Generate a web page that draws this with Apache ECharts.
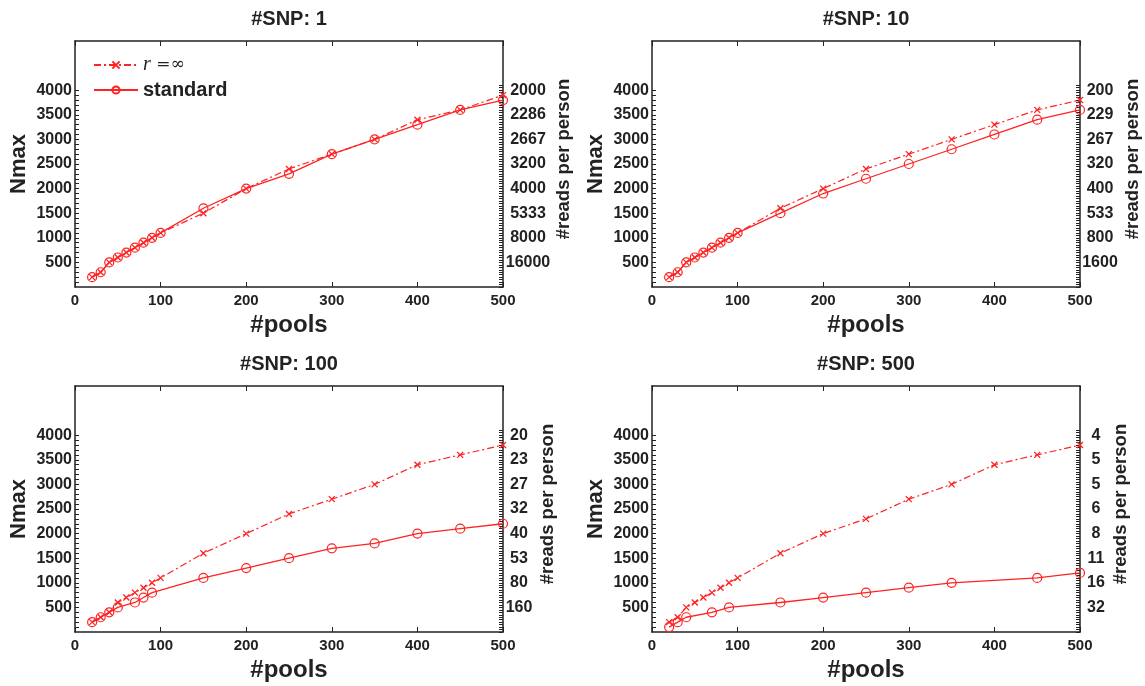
<!DOCTYPE html>
<html><head><meta charset="utf-8">
<script src="https://cdn.jsdelivr.net/npm/echarts@6/dist/echarts.min.js"></script>
<style>html,body{margin:0;padding:0;background:#fff}#c{width:1145px;height:686px}</style>
</head><body><div id="c"></div>
<script>
// ---- data ----
const snpTitles = ['#SNP: 1', '#SNP: 10', '#SNP: 100', '#SNP: 500'];
const pools = [20, 30, 40, 50, 60, 70, 80, 90, 100, 150, 200, 250, 300, 350, 400, 450, 500];

const rinf1 = [200, 300, 500, 600, 700, 800, 900, 1000, 1100, 1500, 2000, 2400, 2700, 3000, 3400, 3600, 3900];
const std1  = [200, 300, 500, 600, 700, 800, 900, 1000, 1100, 1600, 2000, 2300, 2700, 3000, 3300, 3600, 3800];

const rinf10 = [200, 300, 500, 600, 700, 800, 900, 1000, 1100, 1600, 2000, 2400, 2700, 3000, 3300, 3600, 3800];
const std10  = [200, 300, 500, 600, 700, 800, 900, 1000, 1100, 1500, 1900, 2200, 2500, 2800, 3100, 3400, 3600];

const rinf100 = [200, 300, 400, 600, 700, 800, 900, 1000, 1100, 1600, 2000, 2400, 2700, 3000, 3400, 3600, 3800];
const stdPools100 = [20, 30, 40, 50, 70, 80, 90, 150, 200, 250, 300, 350, 400, 450, 500];
const std100 = [200, 300, 400, 500, 600, 700, 800, 1100, 1300, 1500, 1700, 1800, 2000, 2100, 2200];

const rinf500 = [200, 300, 500, 600, 700, 800, 900, 1000, 1100, 1600, 2000, 2300, 2700, 3000, 3400, 3600, 3800];
const stdPools500 = [20, 30, 40, 70, 90, 150, 200, 250, 300, 350, 450, 500];
const std500 = [100, 200, 300, 400, 500, 600, 700, 800, 900, 1000, 1100, 1200];

const nmaxTicks = [500, 1000, 1500, 2000, 2500, 3000, 3500, 4000];
const reads1   = ['16000', '8000', '5333', '4000', '3200', '2667', '2286', '2000'];
const reads10  = ['1600', '800', '533', '400', '320', '267', '229', '200'];
const reads100 = ['160', '80', '53', '40', '32', '27', '23', '20'];
const reads500 = ['32', '16', '11', '8', '6', '5', '5', '4'];

const seriesNames = ['r=∞', 'standard'];

// ---- layout / style ----
const RED = '#ff2222';
const INK = '#222';
const FONT = '"Liberation Sans", Arial, Helvetica, sans-serif';
const leftMinor = []; for (let v = 100; v <= 4000; v += 100) leftMinor.push(v);
const rightMinor = []; for (let v = 0; v <= 4100; v += 50) rightMinor.push(v);

const panels = [
  {title: snpTitles[0], rx: pools, ry: rinf1, sx: pools, sy: std1, reads: reads1,
   box: {left: 75, top: 41, width: 428, height: 246}, rMargin: 25, rGap: 45},
  {title: snpTitles[1], rx: pools, ry: rinf10, sx: pools, sy: std10, reads: reads10,
   box: {left: 652, top: 41, width: 428, height: 246}, rMargin: 20, rGap: 43},
  {title: snpTitles[2], rx: pools, ry: rinf100, sx: stdPools100, sy: std100, reads: reads100,
   box: {left: 75, top: 386, width: 428, height: 246}, rMargin: 16, rGap: 35},
  {title: snpTitles[3], rx: pools, ry: rinf500, sx: stdPools500, sy: std500, reads: reads500,
   box: {left: 652, top: 386, width: 428, height: 246}, rMargin: 16, rGap: 31}
];

const axisLine = {show: true, onZero: false, lineStyle: {color: INK, width: 1.5}};
const tickLabel = {fontFamily: FONT, fontWeight: 'bold', color: INK};

const option = {
  animation: false,
  backgroundColor: '#fff',
  grid: [], xAxis: [], yAxis: [], series: [],
  legend: {
    data: seriesNames, orient: 'vertical', left: 88, top: 50,
    itemWidth: 44, itemHeight: 9, itemGap: 5,
    formatter: n => n === seriesNames[0] ? '{i|r}{e| =∞}' : '{b|' + n + '}',
    textStyle: {
      lineHeight: 20,
      rich: {
        i: {fontFamily: '"Liberation Serif", "DejaVu Serif", serif', fontStyle: 'italic', fontSize: 20, color: INK},
        e: {fontFamily: '"DejaVu Serif", serif', fontSize: 17, color: INK},
        b: {fontFamily: FONT, fontWeight: 'bold', fontSize: 20, color: INK}
      }
    }
  }
};

panels.forEach((p, i) => {
  option.grid.push(Object.assign({containLabel: false}, p.box));
  option.xAxis.push({
    type: 'value', gridIndex: i, position: 'bottom', min: 0, max: 500, interval: 100,
    name: '#pools', nameLocation: 'middle', nameGap: 26,
    nameTextStyle: {fontFamily: FONT, fontWeight: 'bold', fontSize: 24, color: INK},
    axisLine: axisLine,
    axisTick: {show: true, inside: true, length: 5, lineStyle: {color: INK, width: 1}},
    axisLabel: Object.assign({fontSize: 15, margin: 6, formatter: v => String(v)}, tickLabel),
    splitLine: {show: false}
  });
  option.xAxis.push({
    type: 'value', gridIndex: i, position: 'top', min: 0, max: 500, interval: 100,
    name: p.title, nameLocation: 'middle', nameGap: 12,
    nameTextStyle: {fontFamily: FONT, fontWeight: 'bold', fontSize: 20, color: INK},
    axisLine: axisLine,
    axisTick: {show: true, inside: true, length: 5, lineStyle: {color: INK, width: 1}},
    axisLabel: {show: false},
    splitLine: {show: false}
  });
  option.yAxis.push({
    type: 'value', gridIndex: i, position: 'left', min: 0, max: 5000, interval: 500,
    name: 'Nmax', nameLocation: 'middle', nameGap: 45, nameRotate: 90,
    nameTextStyle: {fontFamily: FONT, fontWeight: 'bold', fontSize: 22, color: INK},
    axisLine: axisLine,
    axisTick: {show: true, inside: true, length: 4, customValues: leftMinor, lineStyle: {color: INK, width: 1}},
    axisLabel: Object.assign({fontSize: 16, margin: 3, customValues: nmaxTicks, formatter: v => String(v)}, tickLabel),
    splitLine: {show: false}
  });
  option.yAxis.push({
    type: 'value', gridIndex: i, position: 'right', min: 0, max: 5000, interval: 500,
    name: '#reads per person', nameLocation: 'middle', nameGap: p.rGap, nameRotate: 90,
    nameTextStyle: {fontFamily: FONT, fontWeight: 'bold', fontSize: 18.5, color: INK, padding: [0, 0, 0, 10]},
    axisLine: axisLine,
    axisTick: {show: true, inside: true, length: 4, customValues: rightMinor, lineStyle: {color: INK, width: 1}},
    axisLabel: Object.assign({fontSize: 16, margin: p.rMargin, align: 'center', customValues: nmaxTicks,
      formatter: v => p.reads[nmaxTicks.indexOf(v)] || ''}, tickLabel),
    splitLine: {show: false}
  });
  option.series.push({
    type: 'line', name: seriesNames[0], xAxisIndex: 2 * i, yAxisIndex: 2 * i,
    data: p.rx.map((x, k) => [x, p.ry[k]]),
    symbol: 'path://M0,0L10,10M10,0L0,10', symbolSize: 6,
    lineStyle: {color: RED, width: 1.2, type: [7, 3, 2, 3]},
    itemStyle: {color: RED, borderColor: RED, borderWidth: 1.3},
    z: 3
  });
  option.series.push({
    type: 'line', name: seriesNames[1], xAxisIndex: 2 * i, yAxisIndex: 2 * i,
    data: p.sx.map((x, k) => [x, p.sy[k]]),
    symbol: 'circle', symbolSize: 9,
    lineStyle: {color: RED, width: 1.3},
    itemStyle: {color: 'rgba(255,255,255,0)', borderColor: RED, borderWidth: 1.2},
    z: 4
  });
});

const chart = echarts.init(document.getElementById('c'), null, {renderer: 'canvas'});
chart.setOption(option);
</script>
</body></html>
